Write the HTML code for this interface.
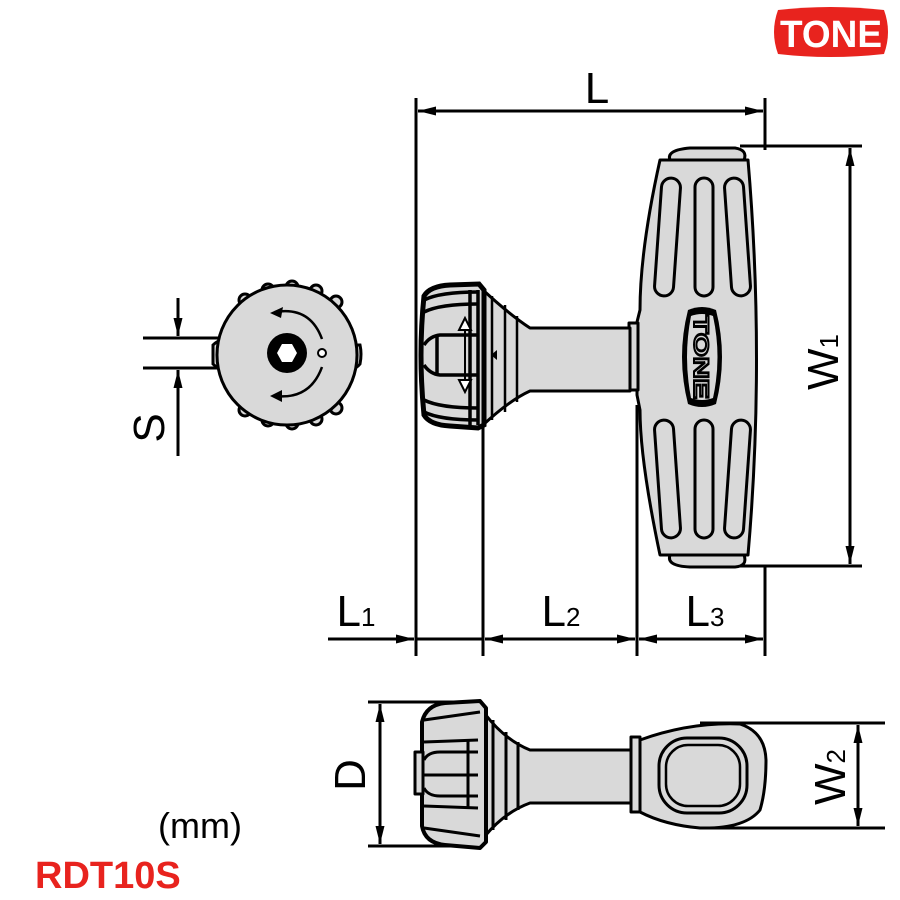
<!DOCTYPE html>
<html><head><meta charset="utf-8"><style>html,body{margin:0;padding:0;background:#fff}svg{display:block}</style></head>
<body>
<svg width="900" height="900" viewBox="0 0 900 900" xmlns="http://www.w3.org/2000/svg" font-family="Liberation Sans, sans-serif">
<defs>
<marker id="b" viewBox="0 0 20 10" refX="20" refY="5" markerWidth="20" markerHeight="9" markerUnits="userSpaceOnUse" orient="auto-start-reverse"><path d="M0,0 L20,5 L0,10 z" fill="#000"/></marker>
</defs>
<!-- logo -->
<path d="M778,10 Q830,4 884,10 Q892,32 884,54 Q830,60 778,54 Q770,32 778,10 z" fill="#e8231e"/>
<text x="831" y="47" font-size="38" font-weight="bold" fill="#fff" text-anchor="middle" textLength="102" lengthAdjust="spacingAndGlyphs">TONE</text>

<g stroke="#000" stroke-width="3" fill="none">
<line x1="416" y1="98" x2="416" y2="656"/>
<line x1="765" y1="98" x2="765" y2="150"/>
<line x1="765" y1="565" x2="765" y2="656"/>
<line x1="483" y1="425" x2="483" y2="656"/>
<line x1="637" y1="405" x2="637" y2="656"/>
<line x1="418" y1="111" x2="763" y2="111" marker-start="url(#b)" marker-end="url(#b)"/>
<line x1="328" y1="639" x2="414" y2="639" marker-end="url(#b)"/>
<line x1="416" y1="639" x2="483" y2="639"/>
<line x1="485" y1="639" x2="635" y2="639" marker-start="url(#b)" marker-end="url(#b)"/>
<line x1="639" y1="639" x2="763" y2="639" marker-start="url(#b)" marker-end="url(#b)"/>
<line x1="740" y1="146" x2="862" y2="146"/>
<line x1="740" y1="566" x2="862" y2="566"/>
<line x1="850" y1="148" x2="850" y2="564" marker-start="url(#b)" marker-end="url(#b)"/>
<line x1="143" y1="338" x2="258" y2="338"/>
<line x1="143" y1="368" x2="258" y2="368"/>
<line x1="178" y1="298" x2="178" y2="336" marker-end="url(#b)"/>
<line x1="178" y1="456" x2="178" y2="370" marker-end="url(#b)"/>
<line x1="368" y1="702" x2="480" y2="702"/>
<line x1="368" y1="846" x2="480" y2="846"/>
<line x1="380" y1="704" x2="380" y2="844" marker-start="url(#b)" marker-end="url(#b)"/>
<line x1="700" y1="723" x2="885" y2="723"/>
<line x1="700" y1="828" x2="885" y2="828"/>
<line x1="858" y1="725" x2="858" y2="826" marker-start="url(#b)" marker-end="url(#b)"/>
</g>

<g stroke="#000" stroke-width="3" fill="#d9d9d9" stroke-linejoin="round">
<path d="M670,160 Q666,150 690,148 L735,148 Q748,150 744,160 z"/>
<path d="M670,555 Q666,566 690,567 L735,567 Q748,566 744,555 z"/>
<path d="M660,160 L748,160 Q765,360 748,555 L660,555 Q640,460 640,410 L637,395 L637,322 L640,310 Q640,250 660,160 z"/>
<rect x="629" y="323" width="9" height="67"/>
<path d="M483,290 Q510,315 530,328 L630,328 L630,391 L530,391 Q510,400 483,425 z"/>
</g>
<g stroke="#000" stroke-width="2.5" fill="none">
<line x1="492" y1="296" x2="492" y2="420"/><line x1="505" y1="305" x2="505" y2="412"/><line x1="517" y1="316" x2="517" y2="402"/>
</g>
<g stroke="#000" stroke-width="3" fill="none">
<rect x="658" y="178" width="19" height="118" rx="9.5" transform="rotate(4 667 237)"/>
<rect x="695" y="178" width="18" height="118" rx="9"/>
<rect x="728" y="178" width="19" height="118" rx="9.5" transform="rotate(-4 737 237)"/>
<rect x="658" y="420" width="19" height="118" rx="9.5" transform="rotate(-4 667 479)"/>
<rect x="695" y="420" width="18" height="118" rx="9"/>
<rect x="728" y="420" width="19" height="118" rx="9.5" transform="rotate(4 737 479)"/>
</g>
<path d="M688,310 Q702,304 716,310 Q728,357 716,404 Q702,410 688,404 Q676,357 688,310 z" fill="#000"/>
<path d="M691,316 Q702,312 713,316 Q722,357 713,398 Q702,402 691,398 Q683,357 691,316 z" fill="#d9d9d9"/>
<text transform="translate(694,357) rotate(90)" font-size="21" font-weight="bold" text-anchor="middle" fill="#d9d9d9" stroke="#000" stroke-width="2" textLength="84" lengthAdjust="spacingAndGlyphs">TONE</text>

<!-- knob -->
<path d="M424,296 Q430,286 450,285 L479,284 L484,290 L484,425 L478,428 L450,426 Q430,425 424,415 Q418,355 424,296 z" fill="#d9d9d9" stroke="#000" stroke-width="5"/>
<g stroke="#000" stroke-width="3.5" fill="none">
<path d="M424,300 Q440,292 478,292"/><path d="M424,412 Q440,420 478,420"/>
<path d="M424,312 Q440,304 478,304"/><path d="M424,400 Q440,408 478,408"/>
<path d="M424,345 Q430,336 440,335 L478,335"/><path d="M424,365 Q430,374 440,375 L478,375"/>
<line x1="437" y1="335" x2="437" y2="375"/>
<line x1="470" y1="290" x2="470" y2="425"/><line x1="478" y1="290" x2="478" y2="425"/>
</g>
<line x1="465" y1="318" x2="465" y2="392" stroke="#000" stroke-width="2"/>
<path d="M465,318 L459,330 L471,330 z M465,392 L459,380 L471,380 z" fill="#fff" stroke="#000" stroke-width="2"/>
<path d="M491,355 L497,350 L497,360 z" fill="#000"/>

<!-- end view -->
<g stroke="#000" stroke-width="3" fill="#d9d9d9">
<path d="M213,345 Q218,340 222,341 L222,368 Q218,369 213,364 z"/>
<path d="M355,345 Q350,340 352,341 L352,368 Q356,369 360,364 Q362,354 360,345 z"/>
<circle cx="245" cy="300" r="6"/><circle cx="268" cy="290" r="6"/><circle cx="292" cy="287" r="6"/><circle cx="316" cy="291" r="6"/><circle cx="336" cy="302" r="6"/>
<circle cx="245" cy="410" r="6"/><circle cx="268" cy="420" r="6"/><circle cx="292" cy="423" r="6"/><circle cx="316" cy="419" r="6"/><circle cx="336" cy="408" r="6"/>
<circle cx="287" cy="355" r="70"/>
</g>
<rect x="222" y="340" width="40" height="27" fill="#d9d9d9"/>
<circle cx="287" cy="353" r="20" fill="#000"/>
<path d="M297,353 L292,362 L282,362 L277,353 L282,344 L292,344 z" fill="#fff"/>
<circle cx="322" cy="353" r="4" fill="#fff" stroke="#000" stroke-width="2"/>
<g stroke="#000" stroke-width="2.5" fill="none">
<path d="M322,339 Q310,306 275,312"/><path d="M322,367 Q310,400 275,396"/>
</g>
<path d="M270,313 L283,307 L281,318 z M270,396 L282,390 L282,402 z" fill="#000"/>

<!-- bottom view -->
<g stroke="#000" stroke-width="3" fill="#d9d9d9" stroke-linejoin="round">
<path d="M485,714 Q505,740 530,750 L632,750 L632,803 L530,803 Q505,812 485,836 z"/>
<path d="M640,740 Q690,722 740,724 Q765,732 766,760 Q766,790 760,810 Q745,829 700,828 Q665,825 640,812 z"/>
<rect x="631" y="737" width="9" height="75"/>
<path d="M422,722 Q426,705 445,703 L480,701 L486,708 L486,842 L480,848 L445,845 Q425,843 422,826 z" stroke-width="4"/>
<rect x="415" y="752" width="8" height="42"/>
</g>
<g stroke="#000" stroke-width="3" fill="none">
<line x1="493" y1="720" x2="493" y2="830"/><line x1="506" y1="732" x2="506" y2="820"/><line x1="518" y1="742" x2="518" y2="810"/>
<path d="M424,720 L480,712"/><path d="M424,828 L480,836"/>
<path d="M424,742 L478,740"/><path d="M424,806 L478,808"/>
<path d="M424,760 Q428,752 440,752 L478,752"/><path d="M424,788 Q428,796 440,796 L478,796"/>
<path d="M424,775 L478,775"/>
<line x1="468" y1="740" x2="468" y2="808"/>
<rect x="659" y="738" width="88" height="75" rx="28"/>
<rect x="666" y="745" width="74" height="61" rx="22" stroke-width="2.5"/>
</g>

<g font-size="44" fill="#000" text-anchor="middle">
<text x="597" y="103">L</text>
<text x="356" y="626">L<tspan font-size="26">1</tspan></text>
<text x="561" y="626">L<tspan font-size="26">2</tspan></text>
<text x="705" y="626">L<tspan font-size="26">3</tspan></text>
<text transform="translate(838,362) rotate(-90)">W<tspan font-size="26">1</tspan></text>
<text transform="translate(845,777) rotate(-90)">W<tspan font-size="26">2</tspan></text>
<text transform="translate(164,428) rotate(-90)">S</text>
<text transform="translate(365,775) rotate(-90)">D</text>
</g>
<text x="200" y="838" font-size="36" text-anchor="middle">(mm)</text>
<text x="35" y="888" font-size="38" font-weight="bold" fill="#e8231e">RDT10S</text>
</svg>
</body></html>
